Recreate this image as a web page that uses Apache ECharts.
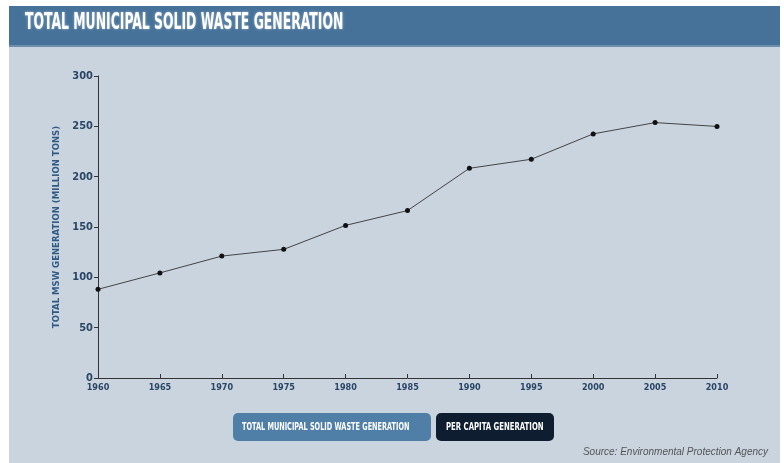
<!DOCTYPE html>
<html>
<head>
<meta charset="utf-8">
<script src="https://cdn.jsdelivr.net/npm/echarts@6/dist/echarts.min.js"></script>
<style>
  html, body { margin: 0; padding: 0; background: #fff; }
  #chart { width: 784px; height: 463px; }
</style>
</head>
<body>
<div id="chart"></div>
<script>
const years = ['1960', '1965', '1970', '1975', '1980', '1985', '1990', '1995', '2000', '2005', '2010'];
const mswTotal = [88.1, 104.4, 121.1, 127.8, 151.6, 166.3, 208.3, 217.3, 242.5, 253.7, 249.9];
const yTicks = [0, 50, 100, 150, 200, 250, 300];

const narrow = '"DejaVu Sans Condensed", "Liberation Sans Narrow", sans-serif';
const navy = '#2a4565';

const chart = echarts.init(document.getElementById('chart'));

// narrow headline text: squeeze horizontally around its left edge
const squeezed = (x, y, text, font, scaleX) => ({
  type: 'text', x: x, y: y, scaleX: scaleX, originX: 0,
  style: { text: text, fill: '#fff', font: font, verticalAlign: 'middle' }
});

const title = squeezed(25, 23, 'TOTAL MUNICIPAL SOLID WASTE GENERATION', 'bold 23px ' + narrow, 0.6);
title.style.textShadowColor = 'rgba(255,255,255,0.45)';
title.style.textShadowBlur = 3;

const option = {
  backgroundColor: '#fff',
  animation: false,
  graphic: [
    // panel + header
    { type: 'rect', shape: { x: 9, y: 6, width: 771, height: 457 }, style: { fill: '#c9d4df' }, z: -10 },
    { type: 'rect', shape: { x: 9, y: 6, width: 771, height: 40 }, style: { fill: '#46729a' }, z: -9 },
    { type: 'rect', shape: { x: 9, y: 45, width: 771, height: 2 }, style: { fill: '#6f90ad' }, z: -9 },
    title,
    // buttons
    { type: 'rect', shape: { x: 233, y: 413, width: 198, height: 28, r: 5 }, style: { fill: '#4f7ea6' } },
    squeezed(242, 427, 'TOTAL MUNICIPAL SOLID WASTE GENERATION', 'bold 11px ' + narrow, 0.66),
    { type: 'rect', shape: { x: 436, y: 413, width: 118, height: 28, r: 5 }, style: { fill: '#0f1d31' } },
    squeezed(446, 427, 'PER CAPITA GENERATION', 'bold 11px ' + narrow, 0.7),
    {
      type: 'text', x: 768, y: 452,
      style: { text: 'Source: Environmental Protection Agency', fill: '#555', font: 'italic 10px "Liberation Sans", sans-serif', align: 'right', verticalAlign: 'middle' }
    }
  ],
  grid: { left: 98, right: 67, top: 76, bottom: 85 },
  xAxis: {
    type: 'category',
    data: years,
    boundaryGap: false,
    axisLine: { lineStyle: { color: '#333', width: 1 } },
    axisTick: { show: true, length: 4, inside: true, lineStyle: { color: '#333' } },
    axisLabel: { color: navy, fontFamily: narrow, fontWeight: 'bold', fontSize: 9, margin: 5 },
    splitLine: { show: false }
  },
  yAxis: {
    type: 'value',
    min: yTicks[0],
    max: yTicks[yTicks.length - 1],
    interval: 50,
    name: 'TOTAL MSW GENERATION (MILLION TONS)',
    nameLocation: 'middle',
    nameGap: 31,
    nameTextStyle: { color: '#2f5a86', fontFamily: narrow, fontWeight: 'bold', fontSize: 9.5 },
    axisLine: { show: true, lineStyle: { color: '#333', width: 1 } },
    axisTick: { show: true, length: 4, lineStyle: { color: '#333' } },
    axisLabel: { color: navy, fontFamily: narrow, fontWeight: 'bold', fontSize: 11, margin: 5 },
    splitLine: { show: false }
  },
  series: [{
    type: 'line',
    data: mswTotal,
    symbol: 'circle',
    symbolSize: 5,
    itemStyle: { color: '#111' },
    lineStyle: { color: '#444', width: 1 }
  }]
};

chart.setOption(option);
</script>
</body>
</html>
